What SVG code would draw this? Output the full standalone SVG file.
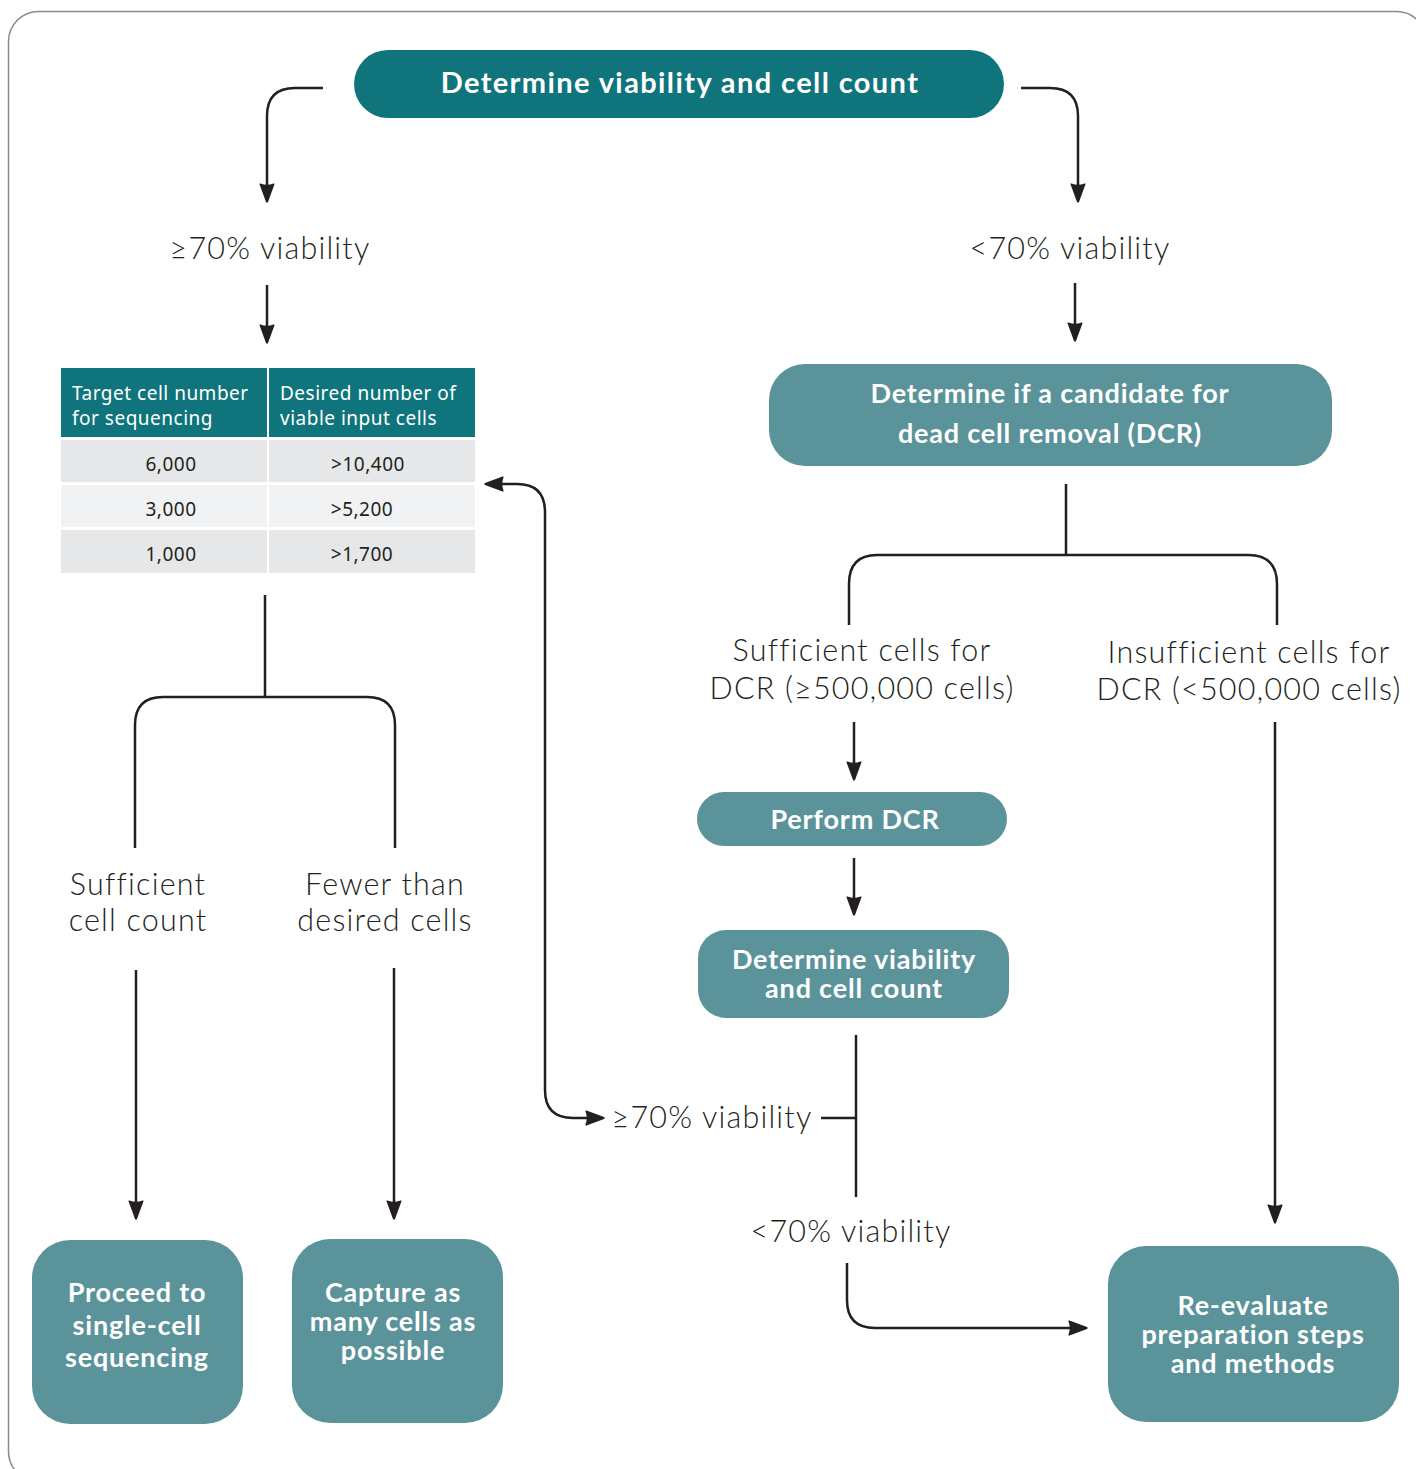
<svg xmlns="http://www.w3.org/2000/svg" width="1416" height="1469" viewBox="0 0 1416 1469">
<style>
.dark{fill:#0F747C}
.mid{fill:#5B939A}
.bt{font-family:Lato,"Open Sans",sans-serif;font-weight:700;fill:#fff;text-anchor:middle;font-size:27px;letter-spacing:0.8px}
.lt{font-family:Lato,"Open Sans",sans-serif;font-weight:300;fill:#231F20;text-anchor:middle;font-size:30.5px;letter-spacing:1.2px}
.tb{font-family:"Noto Sans","Open Sans",sans-serif;font-size:19px;letter-spacing:0.5px}
.ln{fill:none;stroke:#231F20;stroke-width:2.5}
</style>
<defs>
<marker id="ah" viewBox="0 0 20 16" refX="17" refY="8" markerWidth="20" markerHeight="16" markerUnits="userSpaceOnUse" orient="auto-start-reverse">
<path d="M0.5,1.5 Q0,0 1.5,0.6 L19,7 Q20.5,8 19,9 L1.5,15.4 Q0,16 0.5,14.5 Q3,8 0.5,1.5 Z" fill="#231F20"/>
</marker>
</defs>
<rect x="8.5" y="11.5" width="1418" height="1470" rx="30" fill="#fff" stroke="#8a8a8a" stroke-width="1.5"/>

<g id="connectors">
<path class="ln" d="M323,88 H295 Q267,88 267,116 V200" marker-end="url(#ah)"/>
<path class="ln" d="M1021,88 H1050 Q1078,88 1078,116 V200" marker-end="url(#ah)"/>
<path class="ln" d="M267,285 V341" marker-end="url(#ah)"/>
<path class="ln" d="M1075,283 V339" marker-end="url(#ah)"/>
<path class="ln" d="M1066,484 V555 M877,555 H1248 Q1277,555 1277,584 V625 M877,555 Q849,555 849,584 V625"/>
<path class="ln" d="M854,722 V778" marker-end="url(#ah)"/>
<path class="ln" d="M854,858 V913" marker-end="url(#ah)"/>
<path class="ln" d="M856,1035 V1197 M821,1118 H856"/>
<path class="ln" d="M847,1263 V1300 Q847,1328 875,1328 H1085" marker-end="url(#ah)"/>
<path class="ln" d="M487,484 H517 Q545,484 545,512 V1090 Q545,1118 573,1118 H602" marker-start="url(#ah)" marker-end="url(#ah)"/>
<path class="ln" d="M1275,722 V1221" marker-end="url(#ah)"/>
<path class="ln" d="M265,595 V697 M163,697 H367 Q395,697 395,725 V848 M163,697 Q135,697 135,725 V848"/>
<path class="ln" d="M136,970 V1217" marker-end="url(#ah)"/>
<path class="ln" d="M394,968 V1217" marker-end="url(#ah)"/>
</g>

<g id="n-top">
<rect class="dark" x="354" y="50" width="650" height="68" rx="34"/>
<text class="bt" x="680" y="93" style="font-size:29px;letter-spacing:1.4px">Determine viability and cell count</text>
</g>
<g id="l-hi"><text class="lt" x="270" y="259">≥70% viability</text></g>
<g id="l-lo"><text class="lt" x="1070" y="259">&lt;70% viability</text></g>

<g id="table" class="tb">
<rect class="dark" x="61" y="368" width="206" height="69"/>
<rect class="dark" x="269" y="368" width="206" height="69"/>
<rect x="61" y="440" width="206" height="42" fill="#E6E7E9"/>
<rect x="269" y="440" width="206" height="42" fill="#E6E7E9"/>
<rect x="61" y="485" width="206" height="42" fill="#F1F2F3"/>
<rect x="269" y="485" width="206" height="42" fill="#F1F2F3"/>
<rect x="61" y="530" width="206" height="43" fill="#E6E7E9"/>
<rect x="269" y="530" width="206" height="43" fill="#E6E7E9"/>
<g fill="#fff">
<text x="72" y="400">Target cell number</text>
<text x="72" y="425">for sequencing</text>
<text x="280" y="400">Desired number of</text>
<text x="280" y="425">viable input cells</text>
</g>
<g fill="#231F20" text-anchor="middle">
<text x="171" y="471">6,000</text>
<text x="368" y="471">&gt;10,400</text>
<text x="171" y="516">3,000</text>
<text x="362" y="516">&gt;5,200</text>
<text x="171" y="561">1,000</text>
<text x="362" y="561">&gt;1,700</text>
</g>
</g>

<g id="n-dcr">
<rect class="mid" x="769" y="364" width="563" height="102" rx="36"/>
<text class="bt" x="1050" y="403">Determine if a candidate for</text>
<text class="bt" x="1050" y="443">dead cell removal (DCR)</text>
</g>
<g id="l-suff-dcr"><text class="lt" x="862" y="661">Sufficient cells for</text><text class="lt" x="862" y="699">DCR (≥500,000 cells)</text></g>
<g id="l-insuff-dcr"><text class="lt" x="1249" y="663">Insufficient cells for</text><text class="lt" x="1249" y="700">DCR (&lt;500,000 cells)</text></g>

<g id="n-perform">
<rect class="mid" x="697" y="792" width="310" height="54" rx="27"/>
<text class="bt" x="855" y="829">Perform DCR</text>
</g>
<g id="n-determine2">
<rect class="mid" x="698" y="930" width="311" height="88" rx="28"/>
<text class="bt" x="854" y="969">Determine viability</text>
<text class="bt" x="854" y="998">and cell count</text>
</g>
<g id="l-hi2"><text class="lt" x="712" y="1128">≥70% viability</text></g>
<g id="l-lo2"><text class="lt" x="851" y="1242">&lt;70% viability</text></g>

<g id="n-reeval">
<rect class="mid" x="1108" y="1246" width="291" height="176" rx="38"/>
<text class="bt" x="1253" y="1315">Re-evaluate</text>
<text class="bt" x="1253" y="1344">preparation steps</text>
<text class="bt" x="1253" y="1373">and methods</text>
</g>

<g id="l-suff"><text class="lt" x="138" y="895">Sufficient</text><text class="lt" x="138" y="931">cell count</text></g>
<g id="l-fewer"><text class="lt" x="385" y="895">Fewer than</text><text class="lt" x="385" y="931">desired cells</text></g>

<g id="n-proceed">
<rect class="mid" x="32" y="1240" width="211" height="184" rx="38"/>
<text class="bt" x="137" y="1302">Proceed to</text>
<text class="bt" x="137" y="1335">single-cell</text>
<text class="bt" x="137" y="1367">sequencing</text>
</g>
<g id="n-capture">
<rect class="mid" x="292" y="1239" width="211" height="184" rx="38"/>
<text class="bt" x="393" y="1302">Capture as</text>
<text class="bt" x="393" y="1331">many cells as</text>
<text class="bt" x="393" y="1360">possible</text>
</g>
</svg>
